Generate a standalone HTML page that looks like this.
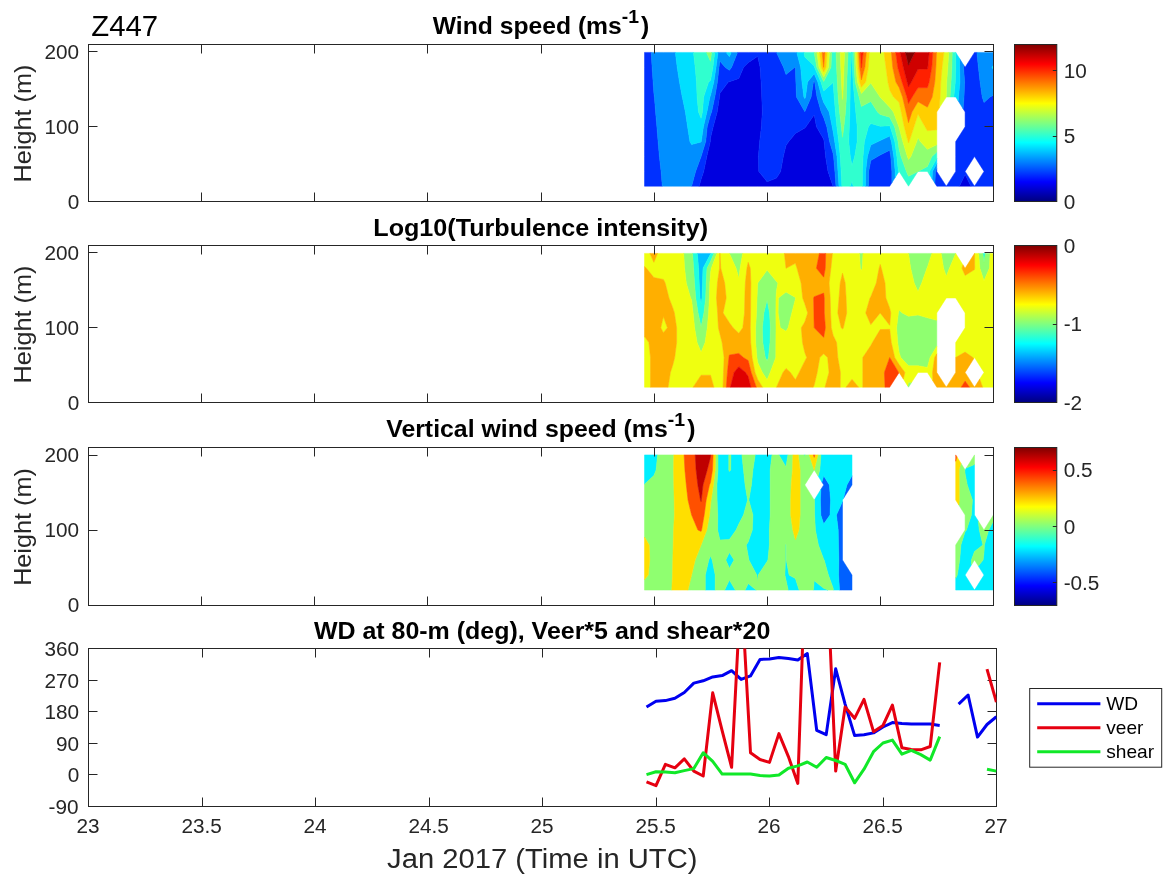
<!DOCTYPE html><html><head><meta charset="utf-8"><title>Z447</title>
<style>html,body{margin:0;padding:0;background:#fff}svg{display:block}text{font-family:"Liberation Sans",Arial,Helvetica,sans-serif;fill:#262626}.b{font-weight:bold;fill:#000}</style></head><body>
<svg width="1167" height="875" viewBox="0 0 1167 875">
<rect width="1167" height="875" fill="#fff"/>
<defs><linearGradient id="jet" x1="0" y1="1" x2="0" y2="0">
<stop offset="0.0000" stop-color="#000080"/>
<stop offset="0.0156" stop-color="#00008f"/>
<stop offset="0.0312" stop-color="#00009f"/>
<stop offset="0.0469" stop-color="#0000af"/>
<stop offset="0.0625" stop-color="#0000bf"/>
<stop offset="0.0781" stop-color="#0000cf"/>
<stop offset="0.0938" stop-color="#0000df"/>
<stop offset="0.1094" stop-color="#0000ef"/>
<stop offset="0.1250" stop-color="#0000ff"/>
<stop offset="0.1406" stop-color="#0010ff"/>
<stop offset="0.1562" stop-color="#0020ff"/>
<stop offset="0.1719" stop-color="#0030ff"/>
<stop offset="0.1875" stop-color="#0040ff"/>
<stop offset="0.2031" stop-color="#0050ff"/>
<stop offset="0.2188" stop-color="#0060ff"/>
<stop offset="0.2344" stop-color="#0070ff"/>
<stop offset="0.2500" stop-color="#0080ff"/>
<stop offset="0.2656" stop-color="#008fff"/>
<stop offset="0.2812" stop-color="#009fff"/>
<stop offset="0.2969" stop-color="#00afff"/>
<stop offset="0.3125" stop-color="#00bfff"/>
<stop offset="0.3281" stop-color="#00cfff"/>
<stop offset="0.3438" stop-color="#00dfff"/>
<stop offset="0.3594" stop-color="#00efff"/>
<stop offset="0.3750" stop-color="#00ffff"/>
<stop offset="0.3906" stop-color="#10ffef"/>
<stop offset="0.4062" stop-color="#20ffdf"/>
<stop offset="0.4219" stop-color="#30ffcf"/>
<stop offset="0.4375" stop-color="#40ffbf"/>
<stop offset="0.4531" stop-color="#50ffaf"/>
<stop offset="0.4688" stop-color="#60ff9f"/>
<stop offset="0.4844" stop-color="#70ff8f"/>
<stop offset="0.5000" stop-color="#80ff80"/>
<stop offset="0.5156" stop-color="#8fff70"/>
<stop offset="0.5312" stop-color="#9fff60"/>
<stop offset="0.5469" stop-color="#afff50"/>
<stop offset="0.5625" stop-color="#bfff40"/>
<stop offset="0.5781" stop-color="#cfff30"/>
<stop offset="0.5938" stop-color="#dfff20"/>
<stop offset="0.6094" stop-color="#efff10"/>
<stop offset="0.6250" stop-color="#ffff00"/>
<stop offset="0.6406" stop-color="#ffef00"/>
<stop offset="0.6562" stop-color="#ffdf00"/>
<stop offset="0.6719" stop-color="#ffcf00"/>
<stop offset="0.6875" stop-color="#ffbf00"/>
<stop offset="0.7031" stop-color="#ffaf00"/>
<stop offset="0.7188" stop-color="#ff9f00"/>
<stop offset="0.7344" stop-color="#ff8f00"/>
<stop offset="0.7500" stop-color="#ff8000"/>
<stop offset="0.7656" stop-color="#ff7000"/>
<stop offset="0.7812" stop-color="#ff6000"/>
<stop offset="0.7969" stop-color="#ff5000"/>
<stop offset="0.8125" stop-color="#ff4000"/>
<stop offset="0.8281" stop-color="#ff3000"/>
<stop offset="0.8438" stop-color="#ff2000"/>
<stop offset="0.8594" stop-color="#ff1000"/>
<stop offset="0.8750" stop-color="#ff0000"/>
<stop offset="0.8906" stop-color="#ef0000"/>
<stop offset="0.9062" stop-color="#df0000"/>
<stop offset="0.9219" stop-color="#cf0000"/>
<stop offset="0.9375" stop-color="#bf0000"/>
<stop offset="0.9531" stop-color="#af0000"/>
<stop offset="0.9688" stop-color="#9f0000"/>
<stop offset="0.9844" stop-color="#8f0000"/>
<stop offset="1.0000" stop-color="#800000"/>
</linearGradient></defs>
<path d="M743.6,67.3 748.2,62.7 757.7,56.3 760.1,67.3 761.1,82.1 761.8,97.0 762.3,111.9 761.4,126.8 759.7,141.6 758.4,156.5 758.8,171.4 767.1,181.7 776.5,178.1 780.6,171.4 783.3,156.5 786.0,145.6 788.7,141.6 795.4,133.4 804.8,128.0 805.9,126.8 814.2,114.7 816.5,126.8 823.7,139.3 824.1,141.6 825.6,156.5 828.0,171.4 833.0,186.2 823.7,186.2 814.2,186.2 804.8,186.2 795.4,186.2 786.0,186.2 776.5,186.2 767.1,186.2 757.7,186.2 748.2,186.2 738.8,186.2 729.4,186.2 719.9,186.2 710.5,186.2 701.1,186.2 699.1,186.2 701.1,179.2 703.7,171.4 706.8,156.5 710.3,141.6 710.5,137.9 713.2,126.8 717.2,111.9 719.5,97.0 719.9,93.3 728.3,82.1 729.4,81.7 738.8,78.4ZM959.4,186.2 965.1,174.4 970.9,186.2 965.1,186.2Z" fill="#0000df" stroke="#0000df" stroke-width="0.5" stroke-linejoin="round" fill-rule="evenodd"/>
<path d="M644.5,52.4 651.2,52.4 652.1,67.3 653.1,82.1 653.9,93.3 654.4,97.0 655.6,111.9 656.9,126.8 658.1,141.6 659.4,156.5 661.1,171.4 662.3,186.2 653.9,186.2 644.5,186.2 644.5,171.4 644.5,156.5 644.5,141.6 644.5,126.8 644.5,111.9 644.5,97.0 644.5,82.1 644.5,67.3ZM719.0,67.3 719.9,60.9 725.1,67.3 729.4,70.2 731.6,67.3 737.5,52.4 738.8,52.4 748.2,52.4 757.7,52.4 767.1,52.4 776.5,52.4 776.5,52.4 783.5,67.3 786.0,74.6 794.8,67.3 795.4,67.1 795.4,67.3 795.9,82.1 796.5,97.0 804.8,111.7 811.1,97.0 813.4,82.1 814.2,81.1 814.7,82.1 817.0,97.0 821.2,111.9 823.7,117.4 826.8,126.8 829.6,141.6 833.1,153.5 833.6,156.5 834.9,171.4 836.0,186.2 833.1,186.2 833.0,186.2 828.0,171.4 825.6,156.5 824.1,141.6 823.7,139.3 816.5,126.8 814.2,114.7 805.9,126.8 804.8,128.0 795.4,133.4 788.7,141.6 786.0,145.6 783.3,156.5 780.6,171.4 776.5,178.1 767.1,181.7 758.8,171.4 758.4,156.5 759.7,141.6 761.4,126.7 762.3,111.9 761.8,97.0 761.1,82.1 760.1,67.3 757.7,56.3 748.2,62.7 743.6,67.3 738.8,78.4 729.4,81.7 728.3,82.1 719.9,93.3 719.5,97.0 717.2,111.9 713.2,126.8 710.5,137.9 710.3,141.6 706.8,156.5 703.7,171.4 701.1,179.2 699.1,186.2 691.6,186.2 691.6,186.2 691.6,186.2 695.6,171.4 701.1,156.5 701.1,156.5 705.7,141.6 707.2,126.8 710.5,114.7 711.6,111.9 714.8,97.0 717.4,82.1ZM963.5,64.8 965.1,67.3 974.5,52.4 976.9,52.4 978.4,67.3 980.1,82.1 982.2,97.0 984.0,102.4 990.0,97.0 993.4,95.2 993.4,97.0 993.4,111.9 993.4,126.8 993.4,141.6 993.4,156.5 993.4,171.4 993.4,186.2 984.0,186.2 974.5,186.2 984.0,171.4 974.5,156.5 965.1,171.4 974.5,186.2 970.9,186.2 965.1,174.4 959.4,186.2 955.7,186.2 946.3,186.2 955.7,171.4 955.7,156.5 955.7,141.6 965.1,126.8 965.1,111.9 963.1,108.8 964.0,97.0 964.6,82.1 963.5,67.3ZM877.6,156.5 880.2,155.1 889.7,150.2 890.8,156.5 891.9,171.4 891.9,182.7 889.7,186.2 880.2,186.2 870.8,186.2 868.6,186.2 868.7,171.4 870.8,160.5ZM935.4,171.4 936.8,168.8 936.8,171.4 946.3,186.2 936.8,186.2 934.9,183.2Z" fill="#0030ff" stroke="#0030ff" stroke-width="0.5" stroke-linejoin="round" fill-rule="evenodd"/>
<path d="M651.2,52.4 653.9,52.4 663.4,52.4 672.8,52.4 675.4,52.4 677.2,67.3 679.5,82.1 682.2,96.8 682.3,97.0 685.4,111.9 687.6,126.8 689.9,141.6 691.6,144.6 701.1,141.9 701.2,141.6 703.4,126.8 706.9,111.9 709.9,97.0 710.5,95.5 713.8,82.1 716.0,67.3 718.0,52.4 719.9,52.4 726.2,52.4 729.4,56.7 731.3,52.4 737.5,52.4 731.6,67.3 729.4,70.2 725.1,67.3 719.9,60.9 719.0,67.3 717.4,82.1 714.8,97.0 711.6,111.9 710.5,114.7 707.2,126.8 705.7,141.6 701.1,156.5 701.1,156.5 695.6,171.4 691.6,186.2 691.6,186.2 682.2,186.2 672.8,186.2 663.4,186.2 662.3,186.2 661.1,171.4 659.4,156.5 658.1,141.6 656.9,126.8 655.6,111.9 654.4,97.0 653.9,93.3 653.1,82.1 652.1,67.3ZM776.5,52.4 786.0,52.4 795.4,52.4 796.8,52.4 800.7,67.3 802.0,82.1 803.9,97.0 804.8,98.6 805.5,97.0 807.5,82.1 814.2,73.8 817.8,82.1 821.8,97.0 823.7,102.4 829.2,111.9 832.2,126.8 833.1,131.5 834.7,141.6 837.0,156.5 838.0,171.4 839.0,186.2 836.0,186.2 834.9,171.4 833.6,156.5 833.1,153.5 829.6,141.6 826.8,126.8 823.7,117.4 821.2,111.9 817.0,97.0 814.7,82.1 814.2,81.1 813.4,82.1 811.1,97.0 804.8,111.7 796.5,97.0 795.9,82.1 795.4,67.3 795.4,67.1 794.8,67.3 786.0,74.6 783.5,67.3ZM959.6,58.6 963.5,64.8 963.5,67.3 964.6,82.1 964.0,97.0 963.1,108.8 958.2,100.9 958.5,97.0 959.9,82.1 959.6,67.3ZM976.9,52.4 984.0,52.4 993.4,52.4 993.4,65.2 992.0,67.3 993.4,69.7 993.4,82.1 993.4,95.2 990.0,97.0 984.0,102.4 982.2,97.0 980.1,82.1 978.4,67.3ZM878.0,141.6 880.2,140.6 889.7,136.1 891.4,141.6 893.8,156.5 895.2,171.4 895.2,177.5 891.9,182.7 891.9,171.4 890.8,156.5 889.7,150.2 880.2,155.1 877.6,156.5 870.8,160.5 868.7,171.4 868.6,186.2 865.5,186.2 865.6,171.4 867.4,156.5 870.8,145.0ZM932.4,171.4 936.8,163.6 936.8,168.8 935.4,171.4 934.9,183.2 932.1,178.8Z" fill="#008fff" stroke="#008fff" stroke-width="0.5" stroke-linejoin="round" fill-rule="evenodd"/>
<path d="M675.4,52.4 682.2,52.4 691.6,52.4 693.5,52.4 695.2,67.3 696.5,82.1 697.1,97.0 698.5,111.9 701.1,118.3 702.4,111.9 703.6,97.0 708.6,82.1 710.5,80.5 712.9,67.3 714.7,52.4 718.0,52.4 716.0,67.3 713.8,82.1 710.5,95.5 709.9,97.0 706.9,111.9 703.4,126.8 701.2,141.6 701.1,141.9 691.6,144.6 689.9,141.6 687.6,126.8 685.4,111.9 682.3,97.0 682.2,96.8 679.5,82.1 677.2,67.3ZM726.2,52.4 729.4,52.4 731.3,52.4 729.4,56.7ZM796.8,52.4 804.1,52.4 804.8,57.0 814.2,66.0 814.5,67.3 820.9,82.1 823.7,90.9 833.1,82.6 834.2,97.0 835.4,111.9 836.9,126.8 838.8,141.6 840.3,156.5 841.2,171.4 841.9,186.2 839.0,186.2 838.0,171.4 837.0,156.5 834.7,141.6 833.1,131.5 832.2,126.8 829.2,111.9 823.7,102.4 821.8,97.0 817.8,82.1 814.2,73.8 807.5,82.1 805.5,97.0 804.8,98.6 803.9,97.0 802.0,82.1 800.7,67.3ZM851.6,52.4 852.0,52.4 852.1,52.4 852.5,67.3 853.1,82.1 854.4,97.0 855.8,111.9 857.2,126.8 857.2,141.6 854.7,156.5 852.0,165.8 850.3,156.5 848.7,141.6 849.3,126.8 849.8,111.9 850.1,97.0 850.2,82.1 850.9,67.3ZM955.7,52.4 955.7,52.4 959.6,58.6 959.6,67.3 959.9,82.1 958.5,97.0 958.2,100.9 955.7,97.0 953.8,97.0 955.3,82.1 955.7,67.3ZM992.0,67.3 993.4,65.2 993.4,67.3 993.4,69.7ZM868.4,126.8 870.8,123.5 880.2,126.2 889.7,125.8 890.2,126.8 894.8,141.6 896.9,156.5 898.4,171.4 898.4,172.4 895.2,177.5 895.2,171.4 893.8,156.5 891.4,141.6 889.7,136.1 880.2,140.6 878.0,141.6 870.8,145.0 867.4,156.5 865.6,171.4 865.5,186.2 862.3,186.2 862.4,171.4 863.0,156.5 864.4,141.6ZM929.5,171.4 936.8,158.4 936.8,163.6 932.4,171.4 932.1,178.8 929.4,174.5ZM850.2,186.2 852.0,181.0 853.2,186.2 852.0,186.2Z" fill="#00dfff" stroke="#00dfff" stroke-width="0.5" stroke-linejoin="round" fill-rule="evenodd"/>
<path d="M693.5,52.4 701.1,52.4 706.5,52.4 710.5,61.3 711.5,52.4 714.7,52.4 712.9,67.3 710.5,80.5 708.6,82.1 703.6,97.0 702.4,111.9 701.1,118.3 698.5,111.9 697.1,97.0 696.5,82.1 695.2,67.3ZM804.1,52.4 804.8,52.4 814.2,52.4 814.2,52.4 816.8,67.3 823.7,81.6 831.0,67.3 831.6,52.4 833.1,52.4 836.0,52.4 836.6,67.3 837.3,82.1 838.2,97.0 839.6,111.9 841.4,126.8 842.5,137.3 843.9,126.8 845.5,111.9 846.4,97.0 846.8,82.1 847.4,67.3 848.1,52.4 851.6,52.4 850.9,67.3 850.2,82.1 850.1,97.0 849.8,111.9 849.3,126.8 848.7,141.6 850.3,156.5 852.0,165.8 854.7,156.5 857.2,141.6 857.2,126.8 855.8,111.9 854.4,97.0 853.1,82.1 852.5,67.3 852.1,52.4 853.8,52.4 854.3,67.3 855.2,82.1 859.1,97.0 861.4,106.6 870.8,101.4 877.5,111.9 880.2,114.4 889.7,117.2 894.6,126.8 898.1,141.6 899.1,149.1 901.0,156.5 906.4,171.4 908.5,176.2 917.9,171.5 908.5,186.2 899.1,171.4 898.4,172.4 898.4,171.4 896.9,156.5 894.8,141.6 890.2,126.7 889.7,125.8 880.2,126.2 870.8,123.5 868.4,126.8 864.4,141.6 863.0,156.5 862.4,171.4 862.3,186.2 861.4,186.2 853.2,186.2 852.0,181.0 850.2,186.2 842.5,186.2 841.9,186.2 841.2,171.4 840.3,156.5 838.8,141.6 836.9,126.8 835.4,111.9 834.2,97.0 833.1,82.6 823.7,90.9 820.9,82.1 814.5,67.3 814.2,66.0 804.8,57.0ZM952.2,52.4 955.7,52.4 955.7,67.3 955.3,82.1 953.8,97.0 950.0,97.0 951.0,82.1 951.8,67.3ZM931.9,156.5 936.8,152.0 936.8,156.5 936.8,158.4 929.5,171.4 929.4,174.5 927.4,171.4 918.1,171.4 927.4,166.4Z" fill="#30ffcf" stroke="#30ffcf" stroke-width="0.5" stroke-linejoin="round" fill-rule="evenodd"/>
<path d="M706.5,52.4 710.5,52.4 711.5,52.4 710.5,61.3ZM814.2,52.4 816.9,52.4 819.0,67.3 823.7,76.9 828.6,67.3 829.4,52.4 831.6,52.4 831.0,67.3 823.7,81.6 816.8,67.3ZM836.0,52.4 840.1,52.4 840.8,67.3 841.5,82.1 842.3,97.0 842.5,99.5 842.8,97.0 843.4,82.1 844.0,67.3 844.6,52.4 848.1,52.4 847.4,67.3 846.8,82.1 846.4,97.0 845.5,111.9 843.9,126.8 842.5,137.3 841.4,126.8 839.6,111.9 838.2,97.0 837.3,82.1 836.6,67.3ZM853.8,52.4 855.4,52.4 856.0,67.3 857.4,82.1 861.4,93.6 870.8,83.1 880.0,97.0 880.2,97.3 889.7,107.2 893.4,111.9 898.9,126.8 899.1,127.6 902.8,141.6 907.3,156.5 908.5,159.5 910.9,156.5 916.8,141.6 918.0,137.7 920.3,141.6 927.4,149.3 936.8,144.8 936.8,152.0 931.9,156.5 927.4,166.4 918.1,171.4 918.0,171.4 917.9,171.5 908.5,176.2 906.4,171.4 901.0,156.5 899.1,149.1 898.1,141.6 894.6,126.8 889.7,117.2 880.2,114.4 877.5,111.9 870.8,101.4 861.4,106.6 859.1,97.0 855.2,82.1 854.3,67.3ZM948.7,52.4 952.2,52.4 951.8,67.3 951.0,82.1 950.0,97.0 946.3,97.0 946.3,97.0 946.3,97.0 946.3,96.9 946.7,82.1 947.8,67.3Z" fill="#8fff70" stroke="#8fff70" stroke-width="0.5" stroke-linejoin="round" fill-rule="evenodd"/>
<path d="M816.9,52.4 819.5,52.4 821.3,67.3 823.7,72.1 826.1,67.3 827.2,52.4 829.4,52.4 828.6,67.3 823.7,76.9 819.0,67.3ZM840.1,52.4 842.5,52.4 844.6,52.4 844.0,67.3 843.4,82.1 842.8,97.0 842.5,99.5 842.3,97.0 841.5,82.1 840.8,67.3ZM855.4,52.4 857.1,52.4 857.8,67.3 859.6,82.1 861.4,87.3 865.7,82.1 868.4,67.3 869.3,52.4 870.8,52.4 880.2,52.4 884.0,52.4 885.9,67.3 887.9,82.1 889.7,89.9 893.5,97.0 899.1,102.4 901.2,111.9 904.2,126.8 908.1,141.6 908.5,143.0 909.2,141.6 914.0,126.8 918.0,114.2 925.0,126.8 927.4,130.8 936.8,129.7 936.8,141.6 936.8,144.8 927.4,149.3 920.3,141.6 918.0,137.7 916.8,141.6 910.9,156.5 908.5,159.5 907.3,156.5 902.8,141.6 899.1,127.6 898.9,126.8 893.4,111.9 889.7,107.2 880.2,97.3 880.0,97.0 870.8,83.1 861.4,93.6 857.4,82.1 856.0,67.3ZM943.9,52.4 946.3,52.4 948.7,52.4 947.8,67.3 946.7,82.1 946.3,96.9 946.3,97.0 946.3,97.0 939.2,108.1 940.1,97.0 940.8,82.1 942.1,67.3Z" fill="#dfff20" stroke="#dfff20" stroke-width="0.5" stroke-linejoin="round" fill-rule="evenodd"/>
<path d="M819.5,52.4 822.1,52.4 823.6,67.3 823.7,67.3 823.7,67.3 825.0,52.4 827.2,52.4 826.1,67.3 823.7,72.1 821.3,67.3ZM857.1,52.4 858.7,52.4 859.6,67.3 861.4,79.8 864.9,67.3 866.3,52.4 869.3,52.4 868.4,67.3 865.7,82.1 861.4,87.3 859.6,82.1 857.8,67.3ZM884.0,52.4 889.7,52.4 891.4,52.4 892.7,67.3 895.9,82.1 899.1,87.5 902.5,97.0 906.0,111.9 908.5,122.7 912.0,111.9 918.0,101.7 927.4,107.2 932.2,97.0 934.8,82.1 935.9,67.3 936.5,52.4 936.8,52.4 943.9,52.4 942.1,67.3 940.8,82.1 940.1,97.0 939.2,108.1 936.8,111.9 936.8,126.8 936.8,129.7 927.4,130.8 925.0,126.8 918.0,114.2 914.0,126.8 909.2,141.6 908.5,143.0 908.1,141.6 904.2,126.8 901.2,111.9 899.1,102.4 893.5,97.0 889.7,89.9 887.9,82.1 885.9,67.3Z" fill="#ffcf00" stroke="#ffcf00" stroke-width="0.5" stroke-linejoin="round" fill-rule="evenodd"/>
<path d="M822.1,52.4 823.7,52.4 825.0,52.4 823.7,67.3 823.7,67.3 823.6,67.3ZM858.7,52.4 860.4,52.4 861.3,67.3 861.4,67.8 861.5,67.3 863.2,52.4 866.3,52.4 864.9,67.3 861.4,79.8 859.6,67.3ZM891.4,52.4 895.7,52.4 897.7,67.3 899.1,72.2 902.0,82.1 906.9,97.0 908.5,103.5 912.2,97.0 918.0,87.8 927.4,87.7 929.2,82.1 931.8,67.3 932.8,52.4 936.5,52.4 935.9,67.3 934.8,82.1 932.2,97.0 927.4,107.2 918.0,101.7 912.0,111.9 908.5,122.7 906.0,111.9 902.5,97.0 899.1,87.5 895.9,82.1 892.7,67.3Z" fill="#ff7000" stroke="#ff7000" stroke-width="0.5" stroke-linejoin="round" fill-rule="evenodd"/>
<path d="M860.4,52.4 861.4,52.4 863.2,52.4 861.5,67.3 861.4,67.8 861.3,67.3ZM895.7,52.4 899.1,52.4 900.2,52.4 903.3,67.3 907.1,82.1 908.5,86.8 911.4,82.1 918.0,69.2 927.4,69.0 927.8,67.3 929.2,52.4 932.8,52.4 931.8,67.3 929.2,82.1 927.4,87.7 918.0,87.8 912.2,97.0 908.5,103.5 906.9,97.0 902.0,82.1 899.1,72.2 897.7,67.3Z" fill="#ff2000" stroke="#ff2000" stroke-width="0.5" stroke-linejoin="round" fill-rule="evenodd"/>
<path d="M900.2,52.4 905.4,52.4 908.5,65.2 914.8,52.4 918.0,52.4 927.4,52.4 929.2,52.4 927.8,67.3 927.4,69.0 918.0,69.2 911.4,82.1 908.5,86.8 907.1,82.1 903.3,67.3Z" fill="#cf0000" stroke="#cf0000" stroke-width="0.5" stroke-linejoin="round" fill-rule="evenodd"/>
<path d="M905.4,52.4 908.5,52.4 914.8,52.4 908.5,65.2Z" fill="#800000" stroke="#800000" stroke-width="0.5" stroke-linejoin="round" fill-rule="evenodd"/>
<path d="M697.3,253.4 701.1,253.4 710.5,253.4 710.8,253.4 710.5,254.1 703.0,268.3 702.5,283.1 702.0,298.0 701.1,303.7 700.0,298.0 699.2,283.1 698.6,268.3Z" fill="#00bfff" stroke="#00bfff" stroke-width="0.5" stroke-linejoin="round" fill-rule="evenodd"/>
<path d="M692.6,253.4 697.3,253.4 698.6,268.3 699.2,283.1 700.0,298.0 701.1,303.7 702.0,298.0 702.5,283.1 703.0,268.3 710.5,254.1 710.8,253.4 713.9,253.4 710.5,261.6 707.0,268.3 706.2,283.1 705.7,298.0 703.9,312.9 701.1,327.0 698.1,312.9 695.7,298.0 694.5,283.1 693.6,268.3ZM982.8,253.4 984.0,253.4 985.4,253.4 984.0,262.3ZM763.9,312.9 767.1,299.7 769.6,312.9 770.4,327.8 770.0,342.6 768.5,357.5 767.1,360.8 765.3,357.5 762.8,342.6 762.4,327.8Z" fill="#20ffdf" stroke="#20ffdf" stroke-width="0.5" stroke-linejoin="round" fill-rule="evenodd"/>
<path d="M683.7,253.4 691.6,253.4 692.6,253.4 693.6,268.3 694.5,283.1 695.7,298.0 698.1,312.9 701.1,327.0 703.9,312.9 705.7,298.0 706.2,283.1 707.0,268.3 710.5,261.6 713.9,253.4 716.9,253.4 711.3,268.3 710.5,273.2 709.8,283.1 709.4,298.0 708.6,312.9 707.3,327.8 705.1,342.6 701.1,352.3 697.1,342.6 694.6,327.8 693.1,312.9 691.6,300.1 690.6,298.0 686.3,283.1 684.6,268.3ZM729.4,253.4 729.4,253.4 738.8,253.4 742.7,253.4 740.1,268.3 738.8,278.2 736.1,268.3 729.4,253.4ZM859.5,253.4 861.4,253.4 863.0,253.4 862.2,268.3 861.4,270.4 860.3,268.3ZM908.5,253.4 908.5,253.4 918.0,253.4 927.4,253.4 931.9,253.4 927.4,267.2 926.9,268.3 921.7,283.1 918.0,291.6 914.2,283.1 910.7,268.3 908.5,253.4ZM941.2,253.4 946.3,253.4 955.7,253.4 955.7,253.4 955.7,253.4 949.4,268.3 946.3,276.3 943.6,268.3ZM978.6,253.4 982.8,253.4 984.0,262.3 985.4,253.4 990.1,253.4 989.4,268.3 984.0,280.7 979.9,268.3ZM757.7,283.1 757.7,283.1 767.1,270.1 776.5,281.5 777.9,283.1 776.5,290.6 776.0,298.0 775.9,312.9 776.0,327.8 775.9,342.6 775.8,357.5 770.2,372.4 767.1,379.8 762.4,372.4 757.7,362.4 756.9,357.5 755.7,342.6 755.6,327.8 756.5,312.9 757.0,298.0ZM767.1,299.7 763.9,312.9 762.4,327.8 762.8,342.6 765.3,357.5 767.1,360.8 768.5,357.5 770.0,342.6 770.4,327.8 769.6,312.9ZM778.4,298.0 786.0,292.1 795.4,297.4 795.5,298.0 795.4,298.9 791.8,312.9 788.1,327.8 786.0,331.2 780.3,327.8 778.1,312.9ZM898.4,312.9 899.1,309.9 902.3,312.9 908.5,316.2 918.0,315.0 927.4,317.8 936.8,320.3 936.8,327.8 936.8,342.6 936.8,346.3 930.1,357.5 927.4,367.4 918.0,365.8 908.5,365.8 900.8,357.5 899.1,352.5 897.7,342.6 896.6,327.8ZM908.5,387.2 907.7,385.9 908.5,382.3 911.7,382.3Z" fill="#8fff70" stroke="#8fff70" stroke-width="0.5" stroke-linejoin="round" fill-rule="evenodd"/>
<path d="M644.5,253.4 649.9,253.4 653.9,262.3 657.5,253.4 663.4,253.4 672.8,253.4 682.2,253.4 683.7,253.4 684.6,268.3 686.3,283.1 690.6,298.0 691.6,300.1 693.1,312.9 694.6,327.8 697.1,342.6 701.1,352.3 705.1,342.6 707.3,327.8 708.6,312.9 709.4,298.0 709.8,283.1 710.5,273.2 711.3,268.3 716.9,253.4 719.9,253.4 729.4,253.4 729.4,253.4 736.1,268.3 738.8,278.2 740.1,268.3 742.7,253.4 748.2,253.4 757.7,253.4 767.1,253.4 776.5,253.4 784.4,253.4 786.0,268.3 795.4,263.3 797.0,268.3 801.1,283.1 802.7,298.0 804.8,303.7 807.7,312.9 804.8,322.0 801.3,327.8 802.5,342.6 804.8,352.5 806.7,357.5 804.8,361.2 799.2,372.4 795.4,379.8 790.4,372.4 785.9,368.4 783.0,372.4 776.5,387.2 776.5,387.2 767.1,387.2 762.5,387.2 757.7,379.5 755.0,372.4 752.1,357.5 750.7,342.6 750.3,327.8 750.6,312.9 750.7,298.0 750.9,283.1 750.3,268.3 748.2,262.3 746.9,268.3 745.3,283.1 744.8,298.0 744.5,312.9 742.8,327.8 738.8,333.3 733.1,327.8 729.4,322.8 723.1,312.9 726.2,298.0 724.7,283.1 720.8,268.3 719.9,253.4 719.5,268.3 717.4,283.1 716.5,298.0 717.6,312.9 718.4,327.8 719.9,333.7 722.1,342.6 724.1,357.5 723.5,372.4 723.0,387.2 719.9,387.2 713.9,387.2 710.5,375.2 701.1,375.2 693.1,387.2 691.6,387.2 682.2,387.2 672.8,387.2 668.1,387.2 670.4,372.4 672.8,364.9 674.7,357.5 676.6,342.6 676.6,327.8 674.4,312.9 672.8,307.9 669.0,298.0 665.2,283.1 663.4,279.4 653.9,277.6 646.4,268.3 644.5,266.6ZM757.7,283.1 757.7,283.1 757.0,298.0 756.5,312.9 755.6,327.8 755.7,342.6 756.9,357.5 757.7,362.4 762.4,372.4 767.1,379.8 770.2,372.4 775.8,357.5 775.9,342.6 776.0,327.8 775.9,312.9 776.0,298.0 776.5,290.6 777.9,283.1 776.5,281.5 767.1,270.1ZM786.0,292.1 778.4,298.0 778.1,312.9 780.3,327.8 786.0,331.2 788.1,327.8 791.8,312.9 795.4,298.9 795.5,298.0 795.4,297.4ZM832.4,253.4 833.1,253.4 842.5,253.4 852.0,253.4 859.5,253.4 860.3,268.3 861.4,270.4 862.2,268.3 863.0,253.4 870.8,253.4 880.2,253.4 889.7,253.4 899.1,253.4 908.5,253.4 908.5,253.4 910.7,268.3 914.2,283.1 918.0,291.6 921.7,283.1 926.9,268.3 927.4,267.2 931.9,253.4 936.8,253.4 941.2,253.4 943.6,268.3 946.3,276.3 949.4,268.3 955.7,253.4 955.7,253.4 962.9,264.8 962.0,268.3 965.1,275.4 974.5,269.6 974.7,268.3 974.5,253.4 974.5,253.4 974.5,253.4 978.6,253.4 979.9,268.3 984.0,280.7 989.4,268.3 990.1,253.4 993.4,253.4 993.4,268.3 993.4,283.1 993.4,298.0 993.4,312.9 993.4,327.8 993.4,342.6 993.4,357.5 993.4,372.4 993.4,387.2 984.0,387.2 982.6,387.2 979.7,379.1 984.0,372.4 974.5,357.5 973.7,358.8 972.9,357.5 965.1,352.1 955.7,357.5 955.7,357.5 955.7,357.5 955.7,342.6 965.1,327.8 965.1,312.9 955.7,298.0 946.3,298.0 936.8,312.9 936.8,320.3 927.4,317.8 918.0,315.0 908.5,316.2 902.3,312.9 899.1,309.9 898.4,312.9 896.6,327.8 897.7,342.6 899.1,352.5 900.8,357.5 908.5,365.8 918.0,365.8 927.4,367.4 930.1,357.5 936.8,346.3 936.8,353.8 934.6,357.5 932.5,372.4 932.9,381.0 927.4,372.4 918.0,372.4 911.7,382.3 908.5,382.3 907.7,385.9 903.3,379.0 904.9,372.4 899.1,364.6 894.7,357.5 891.3,342.6 889.7,329.3 880.2,329.6 872.4,342.6 870.8,345.6 862.8,357.5 862.8,372.4 862.8,387.2 861.4,387.2 858.6,387.2 852.0,379.3 846.0,387.2 842.5,387.2 840.2,387.2 840.4,372.4 837.8,357.5 836.6,342.6 833.1,335.2 831.3,327.8 830.6,312.9 830.2,298.0 829.1,283.1 830.9,268.3ZM842.5,273.2 840.2,283.1 839.0,298.0 837.8,312.9 841.2,327.8 842.5,329.1 843.4,327.8 846.7,312.9 846.1,298.0 845.2,283.1ZM880.2,264.4 879.1,268.3 876.3,283.1 870.8,296.8 870.0,298.0 865.7,312.9 870.8,324.6 880.2,312.9 880.2,312.9 880.2,312.9 889.7,325.3 890.8,312.9 889.7,308.2 885.9,298.0 885.0,283.1 881.4,268.3ZM660.8,327.8 663.4,316.6 667.4,327.8 663.4,332.7ZM644.5,342.6 644.5,336.5 648.9,342.6 650.5,357.5 650.5,372.4 650.5,387.2 644.5,387.2 644.5,372.4 644.5,357.5ZM819.8,357.5 823.7,353.8 827.6,357.5 829.0,372.4 825.0,387.2 823.7,387.2 814.2,387.2 813.2,387.2 814.2,385.1 817.2,372.4Z" fill="#efff10" stroke="#efff10" stroke-width="0.5" stroke-linejoin="round" fill-rule="evenodd"/>
<path d="M649.9,253.4 653.9,253.4 657.5,253.4 653.9,262.3ZM644.5,268.3 644.5,266.6 646.4,268.3 653.9,277.6 663.4,279.4 665.2,283.1 669.0,298.0 672.8,307.9 674.4,312.9 676.6,327.8 676.6,342.6 674.7,357.5 672.8,364.9 670.4,372.4 668.1,387.2 663.4,387.2 653.9,387.2 650.5,387.2 650.5,372.4 650.5,357.5 648.9,342.6 644.5,336.5 644.5,327.8 644.5,312.9 644.5,298.0 644.5,283.1ZM663.4,316.6 660.8,327.8 663.4,332.7 667.4,327.8ZM719.5,268.3 719.9,253.4 720.8,268.3 724.7,283.1 726.2,298.0 723.1,312.9 729.4,322.8 733.1,327.8 738.8,333.3 742.8,327.8 744.5,312.9 744.8,298.0 745.3,283.1 746.9,268.3 748.2,262.3 750.3,268.3 750.9,283.1 750.7,298.0 750.6,312.9 750.3,327.8 750.7,342.6 752.1,357.5 755.0,372.4 757.7,379.5 762.5,387.2 757.7,387.2 756.3,387.2 751.2,372.4 748.2,360.5 743.4,357.5 738.8,353.4 729.4,355.0 728.9,357.5 727.4,372.4 726.3,387.2 723.0,387.2 723.5,372.4 724.1,357.5 722.1,342.6 719.9,333.7 718.4,327.8 717.6,312.9 716.5,298.0 717.4,283.1ZM784.4,253.4 786.0,253.4 795.4,253.4 804.8,253.4 814.2,253.4 819.4,253.4 816.4,268.3 823.7,277.2 825.3,268.3 825.7,253.4 832.4,253.4 830.9,268.3 829.1,283.1 830.2,298.0 830.6,312.9 831.3,327.8 833.1,335.2 836.6,342.6 837.8,357.5 840.4,372.4 840.2,387.2 833.1,387.2 825.0,387.2 829.0,372.4 827.6,357.5 823.7,353.8 819.8,357.5 817.2,372.4 814.2,385.1 813.2,387.2 804.8,387.2 795.4,387.2 786.0,387.2 776.5,387.2 783.0,372.4 786.0,368.4 790.4,372.4 795.4,379.8 799.2,372.4 804.8,361.2 806.7,357.5 804.8,352.5 802.5,342.6 801.3,327.8 804.8,322.0 807.7,312.9 804.8,303.7 802.7,298.0 801.1,283.1 797.0,268.3 795.4,263.3 786.0,268.3ZM814.2,296.7 813.6,298.0 813.9,312.9 814.2,327.8 814.2,327.8 823.7,337.4 825.4,327.7 824.3,312.9 824.3,298.0 823.7,293.1ZM879.1,268.3 880.2,264.4 881.4,268.3 885.0,283.1 885.9,298.0 889.7,308.2 890.8,312.9 889.7,325.3 880.2,312.9 880.2,312.9 880.2,312.9 870.8,324.6 865.7,312.9 870.0,298.0 870.8,296.8 876.3,283.1ZM962.9,264.8 965.1,268.3 974.5,253.4 974.5,253.4 974.7,268.3 974.5,269.6 965.1,275.4 962.0,268.3ZM840.2,283.1 842.5,273.2 845.2,283.1 846.1,298.0 846.7,312.9 843.4,327.8 842.5,329.1 841.2,327.8 837.8,312.9 839.0,298.0ZM872.4,342.6 880.2,329.6 889.7,329.3 891.3,342.6 894.7,357.5 899.1,364.6 904.9,372.4 903.3,379.0 899.1,372.4 898.5,373.4 898.6,372.4 889.7,357.5 884.4,372.4 885.0,387.2 880.2,387.2 870.8,387.2 862.8,387.2 862.8,372.4 862.8,357.5 870.8,345.6ZM934.6,357.5 936.8,353.8 936.8,357.5 936.8,372.4 946.3,387.2 936.8,387.2 932.9,381.0 932.5,372.4ZM955.7,357.5 965.1,352.1 972.9,357.5 973.7,358.8 965.1,372.4 974.5,387.2 969.5,387.2 965.1,381.1 961.2,387.2 955.7,387.2 946.3,387.2 955.7,372.4 955.7,357.5ZM693.1,387.2 701.1,375.2 710.5,375.2 713.9,387.2 710.5,387.2 701.1,387.2ZM846.0,387.2 852.0,379.3 858.6,387.2 852.0,387.2ZM974.5,387.2 979.7,379.1 982.6,387.2Z" fill="#ffaf00" stroke="#ffaf00" stroke-width="0.5" stroke-linejoin="round" fill-rule="evenodd"/>
<path d="M819.4,253.4 823.7,253.4 825.7,253.4 825.3,268.3 823.7,277.2 816.4,268.3ZM813.6,298.0 814.2,296.7 823.7,293.1 824.3,298.0 824.3,312.9 825.4,327.8 823.7,337.4 814.2,327.8 814.2,327.8 813.9,312.9ZM728.9,357.5 729.4,355.0 738.8,353.4 743.4,357.5 748.2,360.5 751.2,372.4 756.3,387.2 750.9,387.2 748.2,376.6 745.5,372.4 738.8,366.7 734.1,372.4 730.4,387.2 729.4,387.2 726.3,387.2 727.4,372.4ZM884.4,372.4 889.7,357.5 898.6,372.4 898.5,373.4 889.7,387.2 885.0,387.2ZM961.2,387.2 965.1,381.1 969.5,387.2 965.1,387.2Z" fill="#ff4000" stroke="#ff4000" stroke-width="0.5" stroke-linejoin="round" fill-rule="evenodd"/>
<path d="M734.1,372.4 738.8,366.7 745.5,372.4 748.2,376.6 750.9,387.2 748.2,387.2 738.8,387.2 730.4,387.2Z" fill="#df0000" stroke="#df0000" stroke-width="0.5" stroke-linejoin="round" fill-rule="evenodd"/>
<path d="M823.7,484.9 821.9,482.1 823.7,475.8 829.4,484.9 830.6,500.0 830.0,515.0 823.7,524.1 820.8,515.0 820.4,500.0 820.8,489.6ZM846.9,484.9 852.0,475.8 852.0,484.9 843.4,498.5ZM836.4,515.0 842.5,501.6 842.5,515.0 842.5,530.0 842.5,545.0 842.5,560.0 852.0,575.1 852.0,590.1 842.5,590.1 839.5,590.1 838.6,575.1 838.8,560.0 838.5,545.0 838.2,530.0Z" fill="#0060ff" stroke="#0060ff" stroke-width="0.5" stroke-linejoin="round" fill-rule="evenodd"/>
<path d="M644.5,454.9 653.9,454.9 657.6,454.9 656.1,469.9 653.9,475.6 644.5,484.2 644.5,469.9ZM718.0,454.9 719.9,454.9 728.8,454.9 728.8,469.9 729.4,471.6 730.7,469.9 730.9,454.9 738.8,454.9 741.9,454.9 743.5,469.9 745.1,484.9 747.6,500.0 743.5,515.0 738.8,524.0 736.1,530.0 729.4,539.4 719.9,540.0 717.6,530.0 717.7,515.0 717.1,500.0 716.9,484.9 718.0,469.9ZM755.2,454.9 757.7,454.9 767.1,454.9 772.0,454.9 770.2,469.9 770.2,484.9 770.2,500.0 770.2,515.0 769.4,530.0 769.4,545.0 767.9,560.0 767.1,561.4 758.2,575.1 757.7,581.1 756.8,575.1 748.9,560.0 748.2,555.9 746.2,545.0 748.2,541.9 752.3,530.0 752.9,515.0 748.8,500.0 751.4,484.9 752.9,469.9ZM779.0,454.9 786.0,454.9 787.9,454.9 786.0,466.9ZM804.2,454.9 804.8,454.9 805.2,454.9 804.8,457.0ZM820.9,454.9 823.7,454.9 833.1,454.9 842.5,454.9 852.0,454.9 852.0,469.9 852.0,475.8 846.9,484.9 843.4,498.5 842.5,500.0 842.5,501.6 836.4,515.0 838.2,530.0 838.5,545.0 838.8,560.0 838.6,575.1 839.5,590.1 833.4,590.1 833.1,587.9 828.4,575.1 824.2,560.0 823.7,559.2 818.4,545.0 815.4,530.0 814.6,515.0 814.5,500.0 814.6,499.5 820.8,489.6 820.4,500.0 820.8,515.0 823.7,524.1 830.0,515.0 830.6,500.0 829.4,484.9 823.7,475.8 821.9,482.1 818.1,476.0 819.8,469.9ZM964.9,469.6 965.1,469.9 966.3,468.0 974.5,464.5 974.5,469.9 974.5,484.9 974.5,500.0 974.5,515.0 978.3,521.0 979.3,530.0 982.9,545.0 974.5,551.5 971.4,560.0 971.4,565.0 965.1,575.1 974.5,590.1 965.1,590.1 955.7,590.1 955.7,578.2 957.3,575.1 959.7,560.0 960.9,545.0 965.1,531.7 966.5,530.0 971.4,515.0 972.4,500.0 967.3,484.9 965.1,473.7 964.8,469.9ZM988.7,530.0 993.4,521.0 993.4,530.0 993.4,545.0 993.4,560.0 993.4,575.1 993.4,590.1 984.0,590.1 974.5,590.1 984.0,575.1 978.3,566.0 983.1,560.0 984.0,552.5 984.4,545.0ZM785.4,545.0 786.0,543.6 786.2,545.0 786.3,560.0 789.1,575.1 795.4,578.6 799.1,590.1 795.4,590.1 788.2,590.1 786.0,580.1 784.9,575.1 785.4,560.0ZM708.8,560.0 710.5,556.0 712.2,560.0 715.2,575.1 715.2,590.1 710.5,590.1 705.3,590.1 705.3,575.1ZM725.8,560.0 729.4,552.5 734.1,560.0 729.4,568.2ZM724.7,590.1 729.4,580.1 735.3,590.1 729.4,590.1ZM745.1,590.1 748.2,583.6 756.1,590.1 748.2,590.1ZM813.4,590.1 814.2,580.7 823.7,588.3 827.9,590.1 823.7,590.1 814.2,590.1Z" fill="#00efff" stroke="#00efff" stroke-width="0.5" stroke-linejoin="round" fill-rule="evenodd"/>
<path d="M657.6,454.9 663.4,454.9 672.8,454.9 673.8,454.9 673.6,469.9 673.8,484.9 674.2,500.0 674.4,515.0 673.6,530.0 673.2,545.0 672.8,560.0 672.8,560.0 672.5,575.1 671.8,590.1 663.4,590.1 653.9,590.1 644.5,590.1 644.5,579.6 648.3,575.1 649.7,560.0 649.2,545.0 644.5,537.1 644.5,530.0 644.5,515.0 644.5,500.0 644.5,484.9 644.5,484.2 653.9,475.6 656.1,469.9ZM715.5,454.9 718.0,454.9 718.0,469.9 716.9,484.9 717.1,500.0 717.7,515.0 717.6,530.0 719.9,540.0 729.4,539.4 736.1,530.0 738.8,524.0 743.5,515.0 747.6,500.0 745.1,484.9 743.5,469.9 741.9,454.9 748.2,454.9 755.2,454.9 752.9,469.9 751.4,484.9 748.8,500.0 752.9,515.0 752.3,530.0 748.2,541.9 746.2,545.0 748.2,555.9 748.9,560.0 756.8,575.1 757.7,581.1 758.2,575.1 767.1,561.4 767.9,560.0 769.4,545.0 769.4,530.0 770.2,515.0 770.2,500.0 770.2,484.9 770.2,469.9 772.0,454.9 776.5,454.9 779.0,454.9 786.0,466.9 787.9,454.9 792.9,454.9 792.5,469.9 791.2,484.9 790.7,500.0 790.7,515.0 792.8,530.0 795.4,539.8 798.9,530.0 800.1,515.0 800.1,500.0 800.1,484.9 800.1,469.9 798.3,454.9 804.2,454.9 804.8,457.0 805.2,454.9 809.3,454.9 814.2,469.9 817.9,454.9 820.9,454.9 819.8,469.9 818.1,476.0 814.2,469.9 804.8,484.9 814.2,500.0 814.6,499.5 814.5,500.0 814.6,515.0 815.4,530.0 818.4,545.0 823.7,559.2 824.2,560.0 828.4,575.1 833.1,587.9 833.4,590.1 833.1,590.1 827.9,590.1 823.7,588.3 814.2,580.7 813.4,590.1 804.8,590.1 799.1,590.1 795.4,578.6 789.1,575.1 786.3,560.0 786.2,545.0 786.0,543.6 785.4,545.0 785.4,560.0 784.9,575.1 786.0,580.1 788.2,590.1 786.0,590.1 776.5,590.1 767.1,590.1 757.7,590.1 756.1,590.1 748.2,583.6 745.1,590.1 738.8,590.1 735.3,590.1 729.4,580.1 724.7,590.1 719.9,590.1 715.2,590.1 715.2,575.1 712.2,560.0 710.5,556.0 708.8,560.0 705.3,575.1 705.3,590.1 701.1,590.1 691.6,590.1 688.0,590.1 691.6,575.1 691.6,575.1 695.2,560.0 701.1,545.0 701.1,545.0 706.8,530.0 709.5,515.0 710.5,505.0 711.1,500.0 713.4,484.9 715.2,469.9ZM729.4,552.5 725.8,560.0 729.4,568.2 734.1,560.0ZM728.8,454.9 729.4,454.9 730.9,454.9 730.7,469.9 729.4,471.6 728.8,469.9ZM960.9,463.2 964.9,469.6 964.8,469.9 965.1,473.7 967.3,484.9 972.4,500.0 971.4,515.0 966.5,530.0 965.1,531.7 960.9,545.0 959.7,560.0 957.3,575.1 955.7,578.2 955.7,575.1 955.7,560.0 955.7,545.0 965.1,530.0 965.1,515.0 958.8,505.0 959.2,500.0 959.2,484.9 959.1,469.9ZM966.3,468.0 974.5,454.9 974.5,464.5ZM978.3,521.0 984.0,530.0 993.4,515.0 993.4,521.0 988.7,530.0 984.4,545.0 984.0,552.5 983.1,560.0 978.3,566.0 974.5,560.0 971.4,565.0 971.4,560.0 974.5,551.5 982.9,545.0 979.3,530.0Z" fill="#8fff70" stroke="#8fff70" stroke-width="0.5" stroke-linejoin="round" fill-rule="evenodd"/>
<path d="M673.8,454.9 682.2,454.9 684.1,454.9 684.9,469.9 686.3,484.9 688.0,500.0 691.6,515.0 691.6,515.0 697.9,530.0 701.1,531.4 701.6,530.0 704.2,515.0 706.2,500.0 709.5,484.9 710.5,482.4 712.5,469.9 713.1,454.9 715.5,454.9 715.2,469.9 713.4,484.9 711.1,500.0 710.5,505.0 709.5,515.0 706.8,530.0 701.1,545.0 701.1,545.0 695.2,560.0 691.6,575.1 691.6,575.1 688.0,590.1 682.2,590.1 672.8,590.1 671.8,590.1 672.5,575.1 672.8,560.0 672.8,560.0 673.2,545.0 673.6,530.0 674.4,515.0 674.2,500.0 673.8,484.9 673.6,469.9ZM792.9,454.9 795.4,454.9 798.3,454.9 800.1,469.9 800.1,484.9 800.1,500.0 800.1,515.0 798.9,530.0 795.4,539.8 792.8,530.0 790.7,515.0 790.7,500.0 791.2,484.9 792.5,469.9ZM809.3,454.9 813.4,454.9 814.2,457.4 814.8,454.9 817.9,454.9 814.2,469.9ZM955.7,469.9 955.7,461.3 956.9,456.8 960.9,463.2 959.1,469.9 959.2,484.9 959.2,500.0 958.8,505.0 955.7,500.0 955.7,484.9ZM644.5,545.0 644.5,537.1 649.2,545.0 649.7,560.0 648.3,575.1 644.5,579.6 644.5,575.1 644.5,560.0Z" fill="#ffdf00" stroke="#ffdf00" stroke-width="0.5" stroke-linejoin="round" fill-rule="evenodd"/>
<path d="M684.1,454.9 691.6,454.9 695.2,454.9 696.1,469.9 697.8,484.9 700.5,500.0 701.1,501.6 701.3,500.0 703.0,484.9 707.2,469.9 710.5,457.2 710.6,454.9 713.1,454.9 712.5,469.9 710.5,482.4 709.5,484.9 706.2,500.0 704.2,515.0 701.6,530.0 701.1,531.4 697.9,530.0 691.6,515.0 691.6,515.0 688.0,500.0 686.3,484.9 684.9,469.9ZM813.4,454.9 814.2,454.9 814.8,454.9 814.2,457.4ZM955.7,461.3 955.7,454.9 956.9,456.8Z" fill="#ff5000" stroke="#ff5000" stroke-width="0.5" stroke-linejoin="round" fill-rule="evenodd"/>
<path d="M695.2,454.9 701.1,454.9 710.5,454.9 710.6,454.9 710.5,457.2 707.2,469.9 703.0,484.9 701.3,500.0 701.1,501.6 700.5,500.0 697.8,484.9 696.1,469.9Z" fill="#bf0000" stroke="#bf0000" stroke-width="0.5" stroke-linejoin="round" fill-rule="evenodd"/>
<rect x="88.5" y="44.5" width="905.0" height="157.0" fill="none" stroke="#262626" stroke-width="1"/>
<path d="M201.5 44.5v9M201.5 201.5v-9" stroke="#262626" stroke-width="1"/>
<path d="M314.5 44.5v9M314.5 201.5v-9" stroke="#262626" stroke-width="1"/>
<path d="M427.5 44.5v9M427.5 201.5v-9" stroke="#262626" stroke-width="1"/>
<path d="M541.5 44.5v9M541.5 201.5v-9" stroke="#262626" stroke-width="1"/>
<path d="M654.5 44.5v9M654.5 201.5v-9" stroke="#262626" stroke-width="1"/>
<path d="M767.5 44.5v9M767.5 201.5v-9" stroke="#262626" stroke-width="1"/>
<path d="M880.5 44.5v9M880.5 201.5v-9" stroke="#262626" stroke-width="1"/>
<path d="M88.5 126.5h9M993.5 126.5h-9" stroke="#262626" stroke-width="1"/>
<path d="M88.5 51.5h9M993.5 51.5h-9" stroke="#262626" stroke-width="1"/>
<rect x="1014.5" y="44.5" width="42.3" height="157.0" fill="url(#jet)" stroke="#262626" stroke-width="1"/>
<path d="M1056.8 136.5h-4" stroke="#262626" stroke-width="1"/>
<path d="M1056.8 70.5h-4" stroke="#262626" stroke-width="1"/>
<rect x="88.5" y="245.5" width="905.0" height="157.0" fill="none" stroke="#262626" stroke-width="1"/>
<path d="M201.5 245.5v9M201.5 402.5v-9" stroke="#262626" stroke-width="1"/>
<path d="M314.5 245.5v9M314.5 402.5v-9" stroke="#262626" stroke-width="1"/>
<path d="M427.5 245.5v9M427.5 402.5v-9" stroke="#262626" stroke-width="1"/>
<path d="M541.5 245.5v9M541.5 402.5v-9" stroke="#262626" stroke-width="1"/>
<path d="M654.5 245.5v9M654.5 402.5v-9" stroke="#262626" stroke-width="1"/>
<path d="M767.5 245.5v9M767.5 402.5v-9" stroke="#262626" stroke-width="1"/>
<path d="M880.5 245.5v9M880.5 402.5v-9" stroke="#262626" stroke-width="1"/>
<path d="M88.5 327.5h9M993.5 327.5h-9" stroke="#262626" stroke-width="1"/>
<path d="M88.5 252.5h9M993.5 252.5h-9" stroke="#262626" stroke-width="1"/>
<rect x="1014.5" y="245.5" width="42.3" height="157.0" fill="url(#jet)" stroke="#262626" stroke-width="1"/>
<path d="M1056.8 324.5h-4" stroke="#262626" stroke-width="1"/>
<rect x="88.5" y="447.5" width="905.0" height="158.0" fill="none" stroke="#262626" stroke-width="1"/>
<path d="M201.5 447.5v9M201.5 605.5v-9" stroke="#262626" stroke-width="1"/>
<path d="M314.5 447.5v9M314.5 605.5v-9" stroke="#262626" stroke-width="1"/>
<path d="M427.5 447.5v9M427.5 605.5v-9" stroke="#262626" stroke-width="1"/>
<path d="M541.5 447.5v9M541.5 605.5v-9" stroke="#262626" stroke-width="1"/>
<path d="M654.5 447.5v9M654.5 605.5v-9" stroke="#262626" stroke-width="1"/>
<path d="M767.5 447.5v9M767.5 605.5v-9" stroke="#262626" stroke-width="1"/>
<path d="M880.5 447.5v9M880.5 605.5v-9" stroke="#262626" stroke-width="1"/>
<path d="M88.5 530.5h9M993.5 530.5h-9" stroke="#262626" stroke-width="1"/>
<path d="M88.5 455.5h9M993.5 455.5h-9" stroke="#262626" stroke-width="1"/>
<rect x="1014.5" y="447.5" width="42.3" height="158.0" fill="url(#jet)" stroke="#262626" stroke-width="1"/>
<path d="M1056.8 582.5h-4" stroke="#262626" stroke-width="1"/>
<path d="M1056.8 526.5h-4" stroke="#262626" stroke-width="1"/>
<path d="M1056.8 470.5h-4" stroke="#262626" stroke-width="1"/>
<rect x="88.5" y="648.5" width="908.0" height="158.0" fill="none" stroke="#262626" stroke-width="1"/>
<path d="M202.5 648.5v9M202.5 806.5v-9" stroke="#262626" stroke-width="1"/>
<path d="M315.5 648.5v9M315.5 806.5v-9" stroke="#262626" stroke-width="1"/>
<path d="M429.5 648.5v9M429.5 806.5v-9" stroke="#262626" stroke-width="1"/>
<path d="M542.5 648.5v9M542.5 806.5v-9" stroke="#262626" stroke-width="1"/>
<path d="M656.5 648.5v9M656.5 806.5v-9" stroke="#262626" stroke-width="1"/>
<path d="M769.5 648.5v9M769.5 806.5v-9" stroke="#262626" stroke-width="1"/>
<path d="M883.5 648.5v9M883.5 806.5v-9" stroke="#262626" stroke-width="1"/>
<path d="M88.5 774.5h9M996.5 774.5h-9" stroke="#262626" stroke-width="1"/>
<path d="M88.5 743.5h9M996.5 743.5h-9" stroke="#262626" stroke-width="1"/>
<path d="M88.5 711.5h9M996.5 711.5h-9" stroke="#262626" stroke-width="1"/>
<path d="M88.5 680.5h9M996.5 680.5h-9" stroke="#262626" stroke-width="1"/>
<clipPath id="c4"><rect x="88.5" y="648.5" width="908.0" height="158.0"/></clipPath>
<g clip-path="url(#c4)" fill="none" stroke-width="3" stroke-linejoin="round">
<polyline points="646.5,707.0 656.0,701.2 665.4,700.6 674.9,698.3 684.3,692.5 693.8,683.1 703.2,680.8 712.7,676.9 722.2,675.6 731.6,670.7 741.1,679.4 750.5,675.9 760.0,659.4 769.5,659.0 778.9,657.5 788.4,658.5 797.8,660.0 807.3,653.6 816.7,730.3 826.2,734.6 835.7,668.8 845.1,704.1 854.6,735.6 864.0,734.8 873.5,732.9 883.0,727.0 892.4,722.6 901.9,723.5 911.3,724.1 920.8,724.1 930.2,724.1 939.7,725.5" stroke="#0000f0"/>
<polyline points="958.6,704.1 968.1,695.0 977.5,737.1 987.0,724.5 996.4,716.7" stroke="#0000f0"/>
<polyline points="646.5,781.8 656.0,785.7 665.4,764.3 674.9,767.8 684.3,758.9 693.8,771.1 703.2,776.0 712.7,692.8 722.2,730.9 731.6,767.3 741.1,583.7 750.5,752.7 760.0,759.5 769.5,762.4 778.9,733.6 788.4,756.6 797.8,783.4 807.3,509.4 816.7,542.9 826.2,554.5 835.7,771.1 845.1,707.0 854.6,718.3 864.0,699.3 873.5,731.7 883.0,725.5 892.4,705.1 901.9,747.8 911.3,749.4 920.8,749.8 930.2,746.5 939.7,662.3" stroke="#e60010"/>
<polyline points="987.0,669.1 996.4,702.2" stroke="#e60010"/>
<polyline points="646.5,774.6 656.0,771.7 665.4,772.1 674.9,772.7 684.3,770.6 693.8,768.6 703.2,752.7 712.7,761.4 722.2,774.1 731.6,774.1 741.1,774.1 750.5,774.1 760.0,775.6 769.5,776.0 778.9,775.0 788.4,768.2 797.8,765.9 807.3,762.0 816.7,767.3 826.2,757.5 835.7,760.5 845.1,764.3 854.6,782.8 864.0,769.2 873.5,751.7 883.0,743.0 892.4,740.1 901.9,754.2 911.3,750.4 920.8,754.6 930.2,760.1 939.7,736.6" stroke="#10e828"/>
<polyline points="987.0,769.2 996.4,771.1" stroke="#10e828"/>
</g>
<rect x="1029.7" y="688.5" width="132" height="78.7" fill="#fff" stroke="#262626" stroke-width="1"/>
<path d="M1037.2 703.7H1100.4" stroke="#0000f0" stroke-width="3"/>
<path d="M1037.2 727.8H1100.4" stroke="#e60010" stroke-width="3"/>
<path d="M1037.2 751.8H1100.4" stroke="#10e828" stroke-width="3"/>
<text class="b" transform="translate(432.75,34.40) scale(1.0464,1)" font-size="23.6">Wind speed (ms<tspan dy="-11.9" font-size="18.5">-1</tspan><tspan dy="11.9" dx="2">)</tspan></text>
<text class="b" transform="translate(373.27,235.80) scale(1.0662,1)" font-size="23.6">Log10(Turbulence intensity)</text>
<text class="b" transform="translate(386.20,437.40) scale(1.0529,1)" font-size="23.6">Vertical wind speed (ms<tspan dy="-11.9" font-size="18.5">-1</tspan><tspan dy="11.9" dx="2">)</tspan></text>
<text class="b" transform="translate(313.90,639.40) scale(1.0584,1)" font-size="23.6">WD at 80-m (deg), Veer*5 and shear*20</text>
<text style="fill:#000" transform="translate(91.29,36.00) scale(1.0125,1)" font-size="29">Z447</text>
<text transform="translate(387.06,867.60) scale(1.0431,1)" font-size="28">Jan 2017 (Time in UTC)</text>
<text transform="translate(67.70,208.55) scale(1.0600,1)" font-size="19.6">0</text>
<text transform="translate(44.38,133.88) scale(1.0600,1)" font-size="19.6">100</text>
<text transform="translate(44.38,59.22) scale(1.0600,1)" font-size="19.6">200</text>
<text transform="translate(67.70,409.55) scale(1.0600,1)" font-size="19.6">0</text>
<text transform="translate(44.38,334.88) scale(1.0600,1)" font-size="19.6">100</text>
<text transform="translate(44.38,260.22) scale(1.0600,1)" font-size="19.6">200</text>
<text transform="translate(67.70,612.45) scale(1.0600,1)" font-size="19.6">0</text>
<text transform="translate(44.38,537.35) scale(1.0600,1)" font-size="19.6">100</text>
<text transform="translate(44.38,462.26) scale(1.0600,1)" font-size="19.6">200</text>
<text transform="translate(1063.64,208.75) scale(1.0600,1)" font-size="19.6">0</text>
<text transform="translate(1063.64,143.42) scale(1.0600,1)" font-size="19.6">5</text>
<text transform="translate(1063.64,78.08) scale(1.0600,1)" font-size="19.6">10</text>
<text transform="translate(1063.64,409.75) scale(1.0600,1)" font-size="19.6">-2</text>
<text transform="translate(1063.64,331.35) scale(1.0600,1)" font-size="19.6">-1</text>
<text transform="translate(1063.64,252.95) scale(1.0600,1)" font-size="19.6">0</text>
<text transform="translate(1063.64,590.12) scale(1.0600,1)" font-size="19.6">-0.5</text>
<text transform="translate(1063.64,533.80) scale(1.0600,1)" font-size="19.6">0</text>
<text transform="translate(1063.64,477.48) scale(1.0600,1)" font-size="19.6">0.5</text>
<text transform="translate(48.62,813.95) scale(1.0600,1)" font-size="19.6">-90</text>
<text transform="translate(67.70,782.39) scale(1.0600,1)" font-size="19.6">0</text>
<text transform="translate(56.04,750.83) scale(1.0600,1)" font-size="19.6">90</text>
<text transform="translate(44.38,719.27) scale(1.0600,1)" font-size="19.6">180</text>
<text transform="translate(44.38,687.71) scale(1.0600,1)" font-size="19.6">270</text>
<text transform="translate(44.38,656.15) scale(1.0600,1)" font-size="19.6">360</text>
<text transform="translate(76.44,833.40) scale(1.0600,1)" font-size="19.6">23</text>
<text transform="translate(181.46,833.40) scale(1.0600,1)" font-size="19.6">23.5</text>
<text transform="translate(303.44,833.40) scale(1.0600,1)" font-size="19.6">24</text>
<text transform="translate(408.46,833.40) scale(1.0600,1)" font-size="19.6">24.5</text>
<text transform="translate(530.44,833.40) scale(1.0600,1)" font-size="19.6">25</text>
<text transform="translate(635.46,833.40) scale(1.0600,1)" font-size="19.6">25.5</text>
<text transform="translate(757.44,833.40) scale(1.0600,1)" font-size="19.6">26</text>
<text transform="translate(862.46,833.40) scale(1.0600,1)" font-size="19.6">26.5</text>
<text transform="translate(984.44,833.40) scale(1.0600,1)" font-size="19.6">27</text>
<text style="fill:#000" transform="translate(1106.20,709.80) scale(1.0400,1)" font-size="18.4">WD</text>
<text style="fill:#000" transform="translate(1106.20,733.85) scale(1.0400,1)" font-size="18.4">veer</text>
<text style="fill:#000" transform="translate(1106.20,757.90) scale(1.0400,1)" font-size="18.4">shear</text>
<text transform="translate(31.30,182.43) rotate(-90) scale(1.0300,1)" font-size="24.5">Height (m)</text>
<text transform="translate(31.30,383.43) rotate(-90) scale(1.0300,1)" font-size="24.5">Height (m)</text>
<text transform="translate(31.30,585.87) rotate(-90) scale(1.0300,1)" font-size="24.5">Height (m)</text>
</svg></body></html>
